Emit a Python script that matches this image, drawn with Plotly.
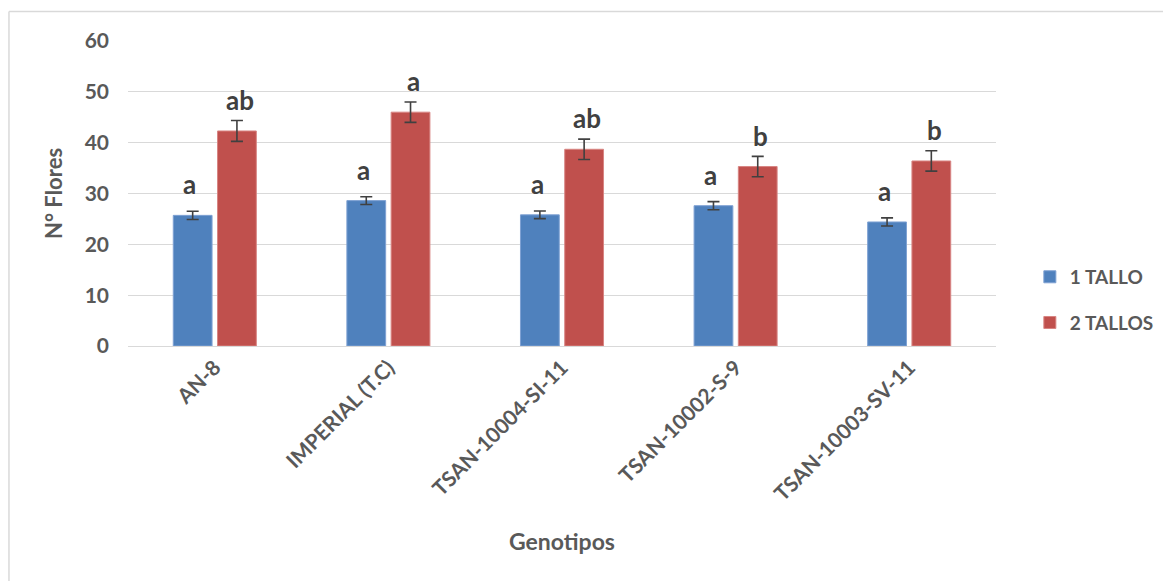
import plotly.graph_objects as go

genotipos = ["AN-8", "IMPERIAL (T.C)", "TSAN-10004-SI-11", "TSAN-10002-S-9", "TSAN-10003-SV-11"]
tallo1 = [25.7, 28.6, 25.8, 27.6, 24.4]
tallo1_err = [0.8, 0.75, 0.75, 0.8, 0.8]
tallo2 = [42.3, 46.0, 38.7, 35.3, 36.4]
tallo2_err = [2.05, 2.0, 2.0, 2.0, 2.0]
letras1 = ["a", "a", "a", "a", "a"]
letras2 = ["ab", "a", "ab", "b", "b"]
y_ticks = [0, 10, 20, 30, 40, 50, 60]

FONT = "Lato"
GRAY = "#595959"

fig = go.Figure()
fig.add_trace(go.Bar(
    x=genotipos, y=tallo1, name="1 TALLO", legendgroup="g1",
    marker=dict(color="#4F81BD", line=dict(color="#7EA1D3", width=1)),
    error_y=dict(type="data", array=tallo1_err, color="#404040", thickness=1.6, width=6),
))
fig.add_trace(go.Bar(
    x=genotipos, y=tallo2, name="2 TALLOS", legendgroup="g2",
    marker=dict(color="#C0504D", line=dict(color="#D88583", width=1)),
    error_y=dict(type="data", array=tallo2_err, color="#404040", thickness=1.6, width=6),
))

annotations = []
for g, v, t in zip(genotipos, tallo1, letras1):
    annotations.append(dict(x=g, y=v, text=t, xref="x", yref="y", showarrow=False,
                            xanchor="center", yanchor="bottom", xshift=-25, yshift=13,
                            font=dict(family=FONT, size=26, color="#404040", weight="bold")))
for g, v, t in zip(genotipos, tallo2, letras2):
    annotations.append(dict(x=g, y=v, text=t, xref="x", yref="y", showarrow=False,
                            xanchor="center", yanchor="bottom", xshift=25, yshift=13,
                            font=dict(family=FONT, size=26, color="#404040", weight="bold")))
annotations.append(dict(x=0.5, y=-0.639, xref="paper", yref="paper", text="Genotipos",
                        showarrow=False, xanchor="center", yanchor="middle",
                        font=dict(family=FONT, size=23, color=GRAY, weight="bold")))

# page body has an 8px margin; figure sized to fit the window
L, R, T, B = 120, 168, 33, 235
W, H = 1163, 573
pw, ph = W - L - R, H - T - B
bx = (0 - L) / pw
by = (H - B - 3.5) / ph

fig.update_layout(
    width=W, height=H,
    margin=dict(l=L, r=R, t=T, b=B, pad=0),
    paper_bgcolor="white", plot_bgcolor="white",
    barmode="group", bargap=0.49, bargroupgap=0.124,
    font=dict(family=FONT, color=GRAY, size=20),
    xaxis=dict(tickangle=-45, tickfont=dict(family=FONT, size=21, color=GRAY, weight="bold"),
               showgrid=False, showline=True, linecolor="#d9d9d9", linewidth=1, ticks=""),
    yaxis=dict(range=[0, 60], tickvals=y_ticks, showgrid=True, gridcolor="#d9d9d9", gridwidth=1,
               zeroline=True, zerolinecolor="#d9d9d9", zerolinewidth=1,
               tickfont=dict(family=FONT, size=21, color=GRAY, weight="bold"),
               ticklabelstandoff=18,
               title=dict(text="N° Flores", standoff=15,
                          font=dict(family=FONT, size=22, color=GRAY, weight="bold"))),
    legend=dict(x=1.039, y=0.151, xanchor="left", yanchor="middle", tracegroupgap=18,
                font=dict(family=FONT, size=19, color=GRAY, weight="bold"),
                itemwidth=30, bgcolor="rgba(0,0,0,0)"),
    annotations=annotations,
    shapes=[
        dict(type="line", xref="paper", yref="paper", x0=bx, x1=1.3, y0=by, y1=by,
             line=dict(color="#d9d9d9", width=1.5)),
        dict(type="line", xref="paper", yref="paper", x0=bx, x1=bx, y0=by, y1=-1,
             line=dict(color="#d9d9d9", width=1.5)),
    ],
)

fig.write_html("out.html")
